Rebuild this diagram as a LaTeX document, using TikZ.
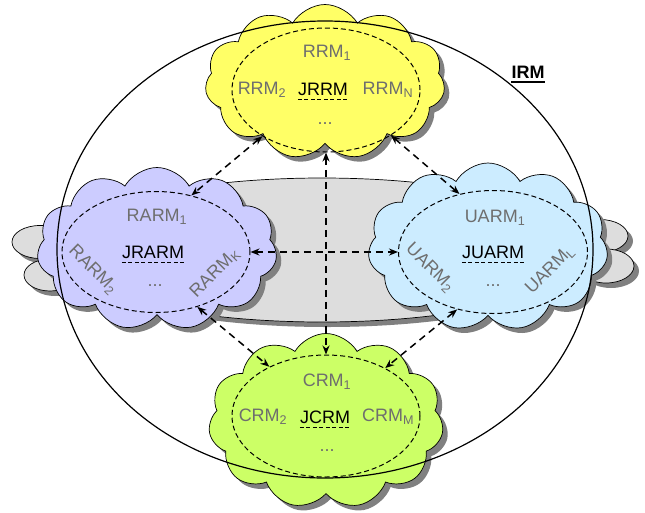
\documentclass[tikz,border=0pt]{standalone}
\usepackage{fontspec}
\setmainfont{Liberation Sans}
\usetikzlibrary{shapes.symbols,shapes.geometric,shadows,arrows.meta}
\definecolor{cy}{HTML}{FFFF66}
\definecolor{cp}{HTML}{CCCCFF}
\definecolor{cb}{HTML}{CCECFF}
\definecolor{cg}{HTML}{CCFF66}
\definecolor{cgray}{HTML}{DDDDDD}
\definecolor{txtgray}{HTML}{6E6E6E}
\begin{document}
\begin{tikzpicture}[x=1pt,y=-1pt,
  shad/.style={drop shadow={shadow xshift=5pt, shadow yshift=-5pt, fill=black!50, opacity=1}},
  cloudbox/.style={cloud, cloud puffs=11, cloud puff arc=120, cloud ignores aspect, draw=black, line width=0.7pt, inner sep=0pt, shad},
  greyblob/.style={ellipse, draw=black, line width=0.7pt, fill=cgray, inner sep=0pt, shad},
  dashell/.style={ellipse, draw, line width=1pt, dash pattern=on 5pt off 3pt, inner sep=0pt},
  lab/.style={text=txtgray, font=\fontsize{18}{20}\selectfont, inner sep=0pt},
  jlab/.style={text=black, font=\fontsize{18}{20}\selectfont, inner sep=0pt},
  jul/.style={line width=1.1pt, dash pattern=on 4pt off 2.5pt},
  dlink/.style={line width=1.5pt, dash pattern=on 7pt off 5pt, {Stealth[length=9pt,width=7pt]}-{Stealth[length=9pt,width=7pt]}},
]
\useasboundingbox (0,0) rectangle (645,512);
% background grey shape
\node[greyblob, minimum width=56pt, minimum height=33pt] (gl1) at (40,242) {};
\node[greyblob, minimum width=52pt, minimum height=32pt] (gl2) at (50,275) {};
\node[greyblob, minimum width=56pt, minimum height=33pt] (gr1) at (600,236) {};
\node[greyblob, minimum width=56pt, minimum height=34pt] (gr2) at (606,266) {};
\node[greyblob, minimum width=540pt, minimum height=144pt] (gmain) at (322,250) {};
% four clouds
\node[cloudbox, fill=cy, minimum width=240pt, minimum height=155pt] (yc) at (325,82) {};
\node[cloudbox, fill=cp, minimum width=240pt, minimum height=163pt] (pc) at (157,249) {};
\node[cloudbox, fill=cb, minimum width=240pt, minimum height=168pt] (bc) at (488,247) {};
\node[cloudbox, fill=cg, minimum width=235pt, minimum height=175pt] (gr) at (326,421) {};
% IRM ellipse
\node[ellipse, draw, line width=1.2pt, minimum width=536pt, minimum height=457pt, inner sep=0pt] (irm) at (325,249.5) {};
% dashed ellipses
\node[dashell, minimum width=188pt, minimum height=124pt] (ey) at (326,90) {};
\node[dashell, minimum width=188pt, minimum height=121pt] (ep) at (156,252) {};
\node[dashell, minimum width=189pt, minimum height=123pt] (eb) at (493,252) {};
\node[dashell, minimum width=188pt, minimum height=122pt] (eg) at (326,416) {};
% yellow labels
\node[lab] (r1) at (327,53) {RRM\textsubscript{1}};
\node[lab] (r2) at (262,90) {RRM\textsubscript{2}};
\node[lab] (rn) at (388,90) {RRM\textsubscript{N}};
\node[lab] (rd) at (325,124) {...};
\node[jlab] (jr) at (323,89) {JRRM};
\draw[jul] ([yshift=-4pt]jr.base west) -- ([yshift=-4pt]jr.base east);
% purple labels
\node[lab] (p1) at (157,217) {RARM\textsubscript{1}};
\node[lab, rotate=-45] (p2) at (93,270) {RARM\textsubscript{2}};
\node[lab, rotate=45] (pk) at (215,273) {RARM\textsubscript{K}};
\node[lab] (pd) at (155,286) {...};
\node[jlab] (jp) at (153,252) {JRARM};
\draw[jul] ([yshift=-4pt]jp.base west) -- ([yshift=-4pt]jp.base east);
% blue labels
\node[lab] (b1) at (495,218) {UARM\textsubscript{1}};
\node[lab, rotate=-45] (b2) at (430,268) {UARM\textsubscript{2}};
\node[lab, rotate=45] (bl) at (550,270) {UARM\textsubscript{L}};
\node[lab] (bd) at (493,286) {...};
\node[jlab] (jb) at (493,252) {JUARM};
\draw[jul] ([yshift=-4pt]jb.base west) -- ([yshift=-4pt]jb.base east);
% green labels
\node[lab] (g1) at (327,382) {CRM\textsubscript{1}};
\node[lab] (g2) at (263,417) {CRM\textsubscript{2}};
\node[lab] (gm) at (388,417) {CRM\textsubscript{M}};
\node[lab] (gd) at (327,451) {...};
\node[jlab] (jg) at (325,417) {JCRM};
\draw[jul] ([yshift=-4pt]jg.base west) -- ([yshift=-4pt]jg.base east);
% IRM label
\node[font=\bfseries\fontsize{18}{20}\selectfont, inner sep=0pt] (irml) at (528,72) {IRM};
\draw[line width=2pt] ([yshift=-4pt]irml.base west) -- ([yshift=-4pt]irml.base east);
% links
\draw[dlink] (ey.south) -- (eg.north);
\draw[dlink] (ep.east) -- (eb.west);
\draw[dlink] (ey.216) -- (ep.58);
\draw[dlink] (ey.325) -- (eb.120);
\draw[dlink] (ep.307) -- (eg.139);
\draw[dlink] (eb.238) -- (eg.39);
\end{tikzpicture}
\end{document}
